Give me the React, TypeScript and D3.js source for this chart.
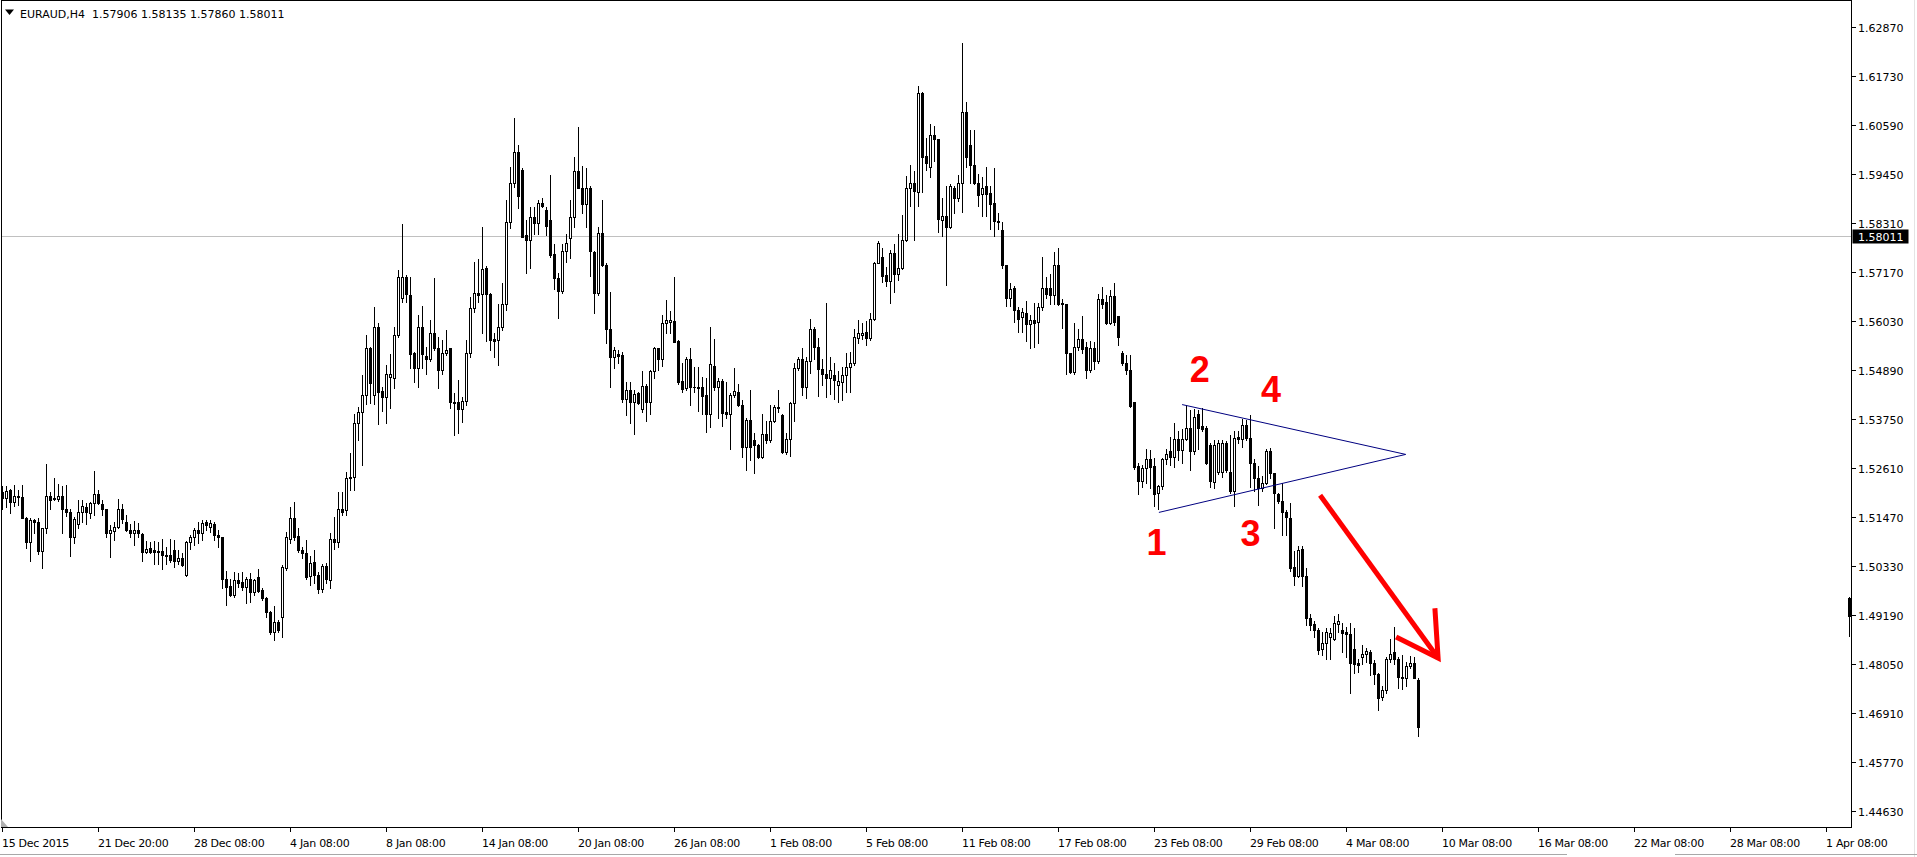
import React from "react";
import * as d3 from "d3";

const CHART_W = 1917;
const CHART_H = 857;

const symbolName = "EURAUD,H4";
const lastQuote = ["1.57906", "1.58135", "1.57860", "1.58011"];
const bidPrice = 1.58011;

const priceTickLabels = [
  "1.62870", "1.61730", "1.60590", "1.59450", "1.58310", "1.57170", "1.56030", "1.54890", "1.53750",
  "1.52610", "1.51470", "1.50330", "1.49190", "1.48050", "1.46910", "1.45770", "1.44630",
];

const timeLabels = [
  "15 Dec 2015", "21 Dec 20:00", "28 Dec 08:00", "4 Jan 08:00", "8 Jan 08:00", "14 Jan 08:00",
  "20 Jan 08:00", "26 Jan 08:00", "1 Feb 08:00", "5 Feb 08:00", "11 Feb 08:00", "17 Feb 08:00",
  "23 Feb 08:00", "29 Feb 08:00", "4 Mar 08:00", "10 Mar 08:00", "16 Mar 08:00", "22 Mar 08:00",
  "28 Mar 08:00", "1 Apr 08:00",
];
const BARS_PER_TIME_LABEL = 24;

// H4 bars, oldest first
const opens = [
  1.5204, 1.5191, 1.5209, 1.5182, 1.5195, 1.5193, 1.5145, 1.5087, 1.5139, 1.5134,
  1.5068, 1.5120, 1.5195, 1.5189, 1.5189, 1.5195, 1.5164, 1.5158, 1.5099, 1.5129,
  1.5157, 1.5170, 1.5156, 1.5178, 1.5201, 1.5176, 1.5164, 1.5108, 1.5113, 1.5124,
  1.5166, 1.5135, 1.5117, 1.5108, 1.5117, 1.5106, 1.5065, 1.5075, 1.5069, 1.5068,
  1.5067, 1.5057, 1.5057, 1.5069, 1.5044, 1.5050, 1.5011, 1.5089, 1.5099, 1.5116,
  1.5108, 1.5135, 1.5124, 1.5131, 1.5104, 1.5099, 1.5001, 1.4985, 1.4964, 1.4999,
  1.4996, 1.4984, 1.5003, 1.4972, 1.5006, 1.4976, 1.4957, 1.4926, 1.4879, 1.4902,
  1.4914, 1.5028, 1.5096, 1.5143, 1.5102, 1.5069, 1.5062, 1.5009, 1.5041, 1.5011,
  1.4978, 1.5032, 1.4999, 1.5096, 1.5089, 1.5166, 1.5162, 1.5237, 1.5240, 1.5366,
  1.5391, 1.5430, 1.5539, 1.5430, 1.5588, 1.5439, 1.5426, 1.5473, 1.5471, 1.5570,
  1.5655, 1.5704, 1.5663, 1.5527, 1.5492, 1.5588, 1.5521, 1.5513, 1.5574, 1.5539,
  1.5488, 1.5527, 1.5539, 1.5415, 1.5415, 1.5397, 1.5417, 1.5527, 1.5632, 1.5667,
  1.5665, 1.5725, 1.5665, 1.5560, 1.5558, 1.5589, 1.5642, 1.5833, 1.5923, 1.5996,
  1.5955, 1.5803, 1.5791, 1.5845, 1.5830, 1.5876, 1.5861, 1.5837, 1.5758, 1.5702,
  1.5673, 1.5766, 1.5795, 1.5845, 1.5951, 1.5911, 1.5875, 1.5913, 1.5764, 1.5668,
  1.5808, 1.5734, 1.5584, 1.5518, 1.5526, 1.5523, 1.5420, 1.5442, 1.5415, 1.5434,
  1.5397, 1.5451, 1.5415, 1.5486, 1.5539, 1.5515, 1.5598, 1.5601, 1.5603, 1.5557,
  1.5463, 1.5446, 1.5513, 1.5448, 1.5449, 1.5448, 1.5430, 1.5386, 1.5498, 1.5448,
  1.5463, 1.5391, 1.5387, 1.5430, 1.5437, 1.5407, 1.5310, 1.5372, 1.5325, 1.5314,
  1.5285, 1.5339, 1.5325, 1.5370, 1.5399, 1.5384, 1.5298, 1.5329, 1.5411, 1.5492,
  1.5515, 1.5448, 1.5510, 1.5583, 1.5541, 1.5490, 1.5479, 1.5469, 1.5477, 1.5453,
  1.5461, 1.5477, 1.5496, 1.5504, 1.5562, 1.5570, 1.5577, 1.5564, 1.5606, 1.5738,
  1.5751, 1.5710, 1.5696, 1.5761, 1.5712, 1.5727, 1.5791, 1.5913, 1.5923, 1.5903,
  1.6134, 1.5986, 1.5960, 1.6035, 1.6025, 1.5838, 1.5848, 1.5821, 1.5913, 1.5888,
  1.5924, 1.6088, 1.6011, 1.5966, 1.5924, 1.5898, 1.5916, 1.5900, 1.5877, 1.5835,
  1.5814, 1.5732, 1.5656, 1.5679, 1.5628, 1.5611, 1.5621, 1.5595, 1.5605, 1.5600,
  1.5635, 1.5679, 1.5679, 1.5663, 1.5734, 1.5645, 1.5642, 1.5529, 1.5484, 1.5542,
  1.5561, 1.5542, 1.5489, 1.5540, 1.5510, 1.5653, 1.5647, 1.5597, 1.5660, 1.5614,
  1.5529, 1.5505, 1.5489, 1.5413, 1.5266, 1.5231, 1.5260, 1.5281, 1.5266, 1.5203,
  1.5218, 1.5281, 1.5300, 1.5287, 1.5329, 1.5302, 1.5329, 1.5354, 1.5300, 1.5386,
  1.5358, 1.5354, 1.5315, 1.5228, 1.5252, 1.5252, 1.5319, 1.5252, 1.5207, 1.5333,
  1.5329, 1.5361, 1.5331, 1.5273, 1.5236, 1.5213, 1.5226, 1.5300, 1.5249, 1.5199,
  1.5184, 1.5157, 1.5144, 1.5031, 1.5010, 1.5073, 1.5010, 1.4912, 1.4897, 1.4883,
  1.4838, 1.4852, 1.4867, 1.4862, 1.4897, 1.4883, 1.4878, 1.4873, 1.4838, 1.4806,
  1.4820, 1.4827, 1.4831, 1.4806, 1.4781, 1.4728, 1.4743, 1.4817, 1.4831, 1.4817,
  1.4775, 1.4771, 1.4799, 1.4806, 1.4767,
];

const highs = [
  1.5218, 1.5218, 1.5211, 1.5220, 1.5209, 1.5220, 1.5147, 1.5143, 1.5142, 1.5143,
  1.5121, 1.5269, 1.5205, 1.5236, 1.5224, 1.5218, 1.5220, 1.5164, 1.5147, 1.5186,
  1.5186, 1.5179, 1.5182, 1.5253, 1.5209, 1.5186, 1.5166, 1.5127, 1.5135, 1.5189,
  1.5176, 1.5151, 1.5131, 1.5137, 1.5133, 1.5108, 1.5091, 1.5089, 1.5091, 1.5089,
  1.5094, 1.5077, 1.5094, 1.5093, 1.5069, 1.5062, 1.5091, 1.5104, 1.5120, 1.5135,
  1.5139, 1.5139, 1.5139, 1.5135, 1.5116, 1.5100, 1.5021, 1.5003, 1.5019, 1.5016,
  1.5019, 1.5007, 1.5016, 1.5003, 1.5026, 1.4980, 1.4961, 1.4928, 1.4939, 1.4906,
  1.5034, 1.5112, 1.5169, 1.5182, 1.5120, 1.5077, 1.5093, 1.5055, 1.5069, 1.5019,
  1.5038, 1.5040, 1.5108, 1.5147, 1.5205, 1.5205, 1.5251, 1.5296, 1.5387, 1.5403,
  1.5477, 1.5570, 1.5543, 1.5634, 1.5597, 1.5449, 1.5500, 1.5525, 1.5589, 1.5721,
  1.5828, 1.5709, 1.5706, 1.5531, 1.5616, 1.5637, 1.5543, 1.5605, 1.5702, 1.5566,
  1.5558, 1.5581, 1.5539, 1.5434, 1.5465, 1.5426, 1.5558, 1.5659, 1.5740, 1.5746,
  1.5822, 1.5731, 1.5667, 1.5574, 1.5642, 1.5692, 1.5885, 1.5962, 1.6076, 1.6012,
  1.5958, 1.5837, 1.5867, 1.5868, 1.5884, 1.5888, 1.5868, 1.5942, 1.5782, 1.5715,
  1.5782, 1.5805, 1.5883, 1.5985, 1.6055, 1.5963, 1.5958, 1.5917, 1.5766, 1.5822,
  1.5883, 1.5737, 1.5671, 1.5543, 1.5535, 1.5531, 1.5461, 1.5461, 1.5442, 1.5438,
  1.5487, 1.5457, 1.5488, 1.5543, 1.5539, 1.5616, 1.5651, 1.5626, 1.5704, 1.5558,
  1.5504, 1.5519, 1.5539, 1.5496, 1.5496, 1.5473, 1.5469, 1.5588, 1.5560, 1.5469,
  1.5467, 1.5461, 1.5434, 1.5492, 1.5457, 1.5418, 1.5376, 1.5442, 1.5341, 1.5316,
  1.5387, 1.5370, 1.5407, 1.5407, 1.5442, 1.5387, 1.5341, 1.5415, 1.5504, 1.5519,
  1.5539, 1.5518, 1.5606, 1.5589, 1.5562, 1.5513, 1.5645, 1.5519, 1.5504, 1.5487,
  1.5496, 1.5527, 1.5531, 1.5585, 1.5605, 1.5597, 1.5603, 1.5620, 1.5740, 1.5789,
  1.5772, 1.5729, 1.5768, 1.5782, 1.5806, 1.5849, 1.5940, 1.5965, 1.5952, 1.6149,
  1.6136, 1.6028, 1.6061, 1.6056, 1.6025, 1.5888, 1.5916, 1.5921, 1.5916, 1.5942,
  1.6250, 1.6113, 1.6046, 1.6046, 1.5945, 1.5937, 1.5962, 1.5916, 1.5958, 1.5853,
  1.5832, 1.5732, 1.5690, 1.5684, 1.5635, 1.5632, 1.5650, 1.5616, 1.5645, 1.5645,
  1.5751, 1.5705, 1.5711, 1.5763, 1.5772, 1.5653, 1.5642, 1.5529, 1.5597, 1.5584,
  1.5614, 1.5553, 1.5555, 1.5553, 1.5666, 1.5681, 1.5663, 1.5674, 1.5692, 1.5614,
  1.5532, 1.5523, 1.5523, 1.5413, 1.5273, 1.5268, 1.5305, 1.5302, 1.5284, 1.5220,
  1.5284, 1.5305, 1.5333, 1.5365, 1.5347, 1.5352, 1.5407, 1.5395, 1.5397, 1.5395,
  1.5400, 1.5358, 1.5319, 1.5326, 1.5326, 1.5326, 1.5323, 1.5337, 1.5347, 1.5347,
  1.5375, 1.5373, 1.5384, 1.5281, 1.5266, 1.5242, 1.5305, 1.5308, 1.5249, 1.5203,
  1.5226, 1.5163, 1.5178, 1.5068, 1.5078, 1.5078, 1.5028, 1.4920, 1.4904, 1.4889,
  1.4878, 1.4889, 1.4889, 1.4915, 1.4920, 1.4899, 1.4891, 1.4899, 1.4889, 1.4815,
  1.4849, 1.4841, 1.4836, 1.4813, 1.4783, 1.4754, 1.4820, 1.4862, 1.4891, 1.4820,
  1.4825, 1.4809, 1.4823, 1.4820, 1.4771,
];

const lows = [
  1.5164, 1.5170, 1.5156, 1.5172, 1.5174, 1.5143, 1.5075, 1.5044, 1.5108, 1.5060,
  1.5028, 1.5110, 1.5164, 1.5186, 1.5184, 1.5110, 1.5148, 1.5056, 1.5085, 1.5120,
  1.5135, 1.5131, 1.5143, 1.5151, 1.5176, 1.5151, 1.5100, 1.5054, 1.5093, 1.5120,
  1.5133, 1.5114, 1.5100, 1.5082, 1.5100, 1.5044, 1.5062, 1.5062, 1.5038, 1.5038,
  1.5026, 1.5038, 1.5042, 1.5030, 1.5038, 1.5032, 1.5010, 1.5073, 1.5081, 1.5085,
  1.5093, 1.5116, 1.5112, 1.5093, 1.5077, 1.4980, 1.4941, 1.4962, 1.4961, 1.4984,
  1.4976, 1.4947, 1.4949, 1.4964, 1.4972, 1.4953, 1.4914, 1.4874, 1.4860, 1.4879,
  1.4867, 1.5023, 1.5085, 1.5093, 1.5065, 1.5050, 1.5003, 1.4988, 1.4992, 1.4970,
  1.4972, 1.4992, 1.4980, 1.5073, 1.5077, 1.5151, 1.5151, 1.5209, 1.5209, 1.5325,
  1.5267, 1.5409, 1.5411, 1.5409, 1.5362, 1.5394, 1.5364, 1.5399, 1.5446, 1.5566,
  1.5647, 1.5647, 1.5492, 1.5461, 1.5448, 1.5492, 1.5480, 1.5510, 1.5535, 1.5446,
  1.5480, 1.5523, 1.5399, 1.5337, 1.5341, 1.5368, 1.5407, 1.5519, 1.5624, 1.5647,
  1.5575, 1.5557, 1.5535, 1.5518, 1.5500, 1.5581, 1.5628, 1.5820, 1.5915, 1.5865,
  1.5797, 1.5715, 1.5727, 1.5806, 1.5806, 1.5867, 1.5803, 1.5751, 1.5678, 1.5610,
  1.5668, 1.5740, 1.5748, 1.5822, 1.5911, 1.5853, 1.5822, 1.5707, 1.5620, 1.5663,
  1.5731, 1.5552, 1.5448, 1.5494, 1.5504, 1.5415, 1.5384, 1.5364, 1.5339, 1.5409,
  1.5391, 1.5370, 1.5387, 1.5469, 1.5488, 1.5498, 1.5574, 1.5574, 1.5554, 1.5457,
  1.5438, 1.5442, 1.5407, 1.5438, 1.5394, 1.5387, 1.5345, 1.5355, 1.5443, 1.5376,
  1.5358, 1.5376, 1.5304, 1.5426, 1.5405, 1.5286, 1.5255, 1.5279, 1.5248, 1.5283,
  1.5283, 1.5319, 1.5322, 1.5368, 1.5391, 1.5296, 1.5294, 1.5288, 1.5370, 1.5488,
  1.5430, 1.5424, 1.5482, 1.5515, 1.5428, 1.5453, 1.5426, 1.5432, 1.5420, 1.5415,
  1.5418, 1.5438, 1.5438, 1.5500, 1.5552, 1.5560, 1.5546, 1.5558, 1.5605, 1.5737,
  1.5694, 1.5684, 1.5645, 1.5671, 1.5698, 1.5723, 1.5789, 1.5870, 1.5792, 1.5870,
  1.5903, 1.5955, 1.5938, 1.5974, 1.5810, 1.5800, 1.5687, 1.5818, 1.5853, 1.5881,
  1.5856, 1.5962, 1.5924, 1.5921, 1.5871, 1.5846, 1.5846, 1.5816, 1.5800, 1.5816,
  1.5726, 1.5637, 1.5637, 1.5600, 1.5576, 1.5576, 1.5555, 1.5540, 1.5542, 1.5552,
  1.5628, 1.5656, 1.5642, 1.5642, 1.5639, 1.5586, 1.5479, 1.5481, 1.5479, 1.5534,
  1.5529, 1.5470, 1.5484, 1.5491, 1.5505, 1.5632, 1.5595, 1.5595, 1.5593, 1.5547,
  1.5500, 1.5479, 1.5403, 1.5257, 1.5200, 1.5215, 1.5226, 1.5213, 1.5171, 1.5165,
  1.5211, 1.5270, 1.5268, 1.5263, 1.5279, 1.5273, 1.5326, 1.5255, 1.5294, 1.5305,
  1.5347, 1.5270, 1.5215, 1.5213, 1.5247, 1.5239, 1.5252, 1.5203, 1.5173, 1.5319,
  1.5310, 1.5326, 1.5215, 1.5207, 1.5175, 1.5207, 1.5224, 1.5236, 1.5120, 1.5178,
  1.5104, 1.5104, 1.5020, 1.4989, 1.5007, 1.4986, 1.4894, 1.4883, 1.4867, 1.4827,
  1.4825, 1.4817, 1.4815, 1.4859, 1.4878, 1.4831, 1.4820, 1.4736, 1.4783, 1.4785,
  1.4804, 1.4810, 1.4778, 1.4757, 1.4697, 1.4720, 1.4736, 1.4810, 1.4804, 1.4749,
  1.4746, 1.4752, 1.4794, 1.4771, 1.4636,
];

const closes = [
  1.5191, 1.5207, 1.5182, 1.5195, 1.5192, 1.5145, 1.5089, 1.5139, 1.5134, 1.5068,
  1.5120, 1.5195, 1.5186, 1.5190, 1.5195, 1.5164, 1.5158, 1.5099, 1.5141, 1.5157,
  1.5172, 1.5157, 1.5178, 1.5201, 1.5178, 1.5164, 1.5108, 1.5116, 1.5124, 1.5166,
  1.5141, 1.5117, 1.5108, 1.5117, 1.5108, 1.5065, 1.5073, 1.5065, 1.5066, 1.5066,
  1.5058, 1.5056, 1.5046, 1.5044, 1.5052, 1.5034, 1.5089, 1.5099, 1.5116, 1.5108,
  1.5133, 1.5127, 1.5133, 1.5104, 1.5099, 1.5001, 1.4984, 1.4964, 1.4999, 1.4992,
  1.4984, 1.5001, 1.4972, 1.4999, 1.4975, 1.4957, 1.4926, 1.4879, 1.4902, 1.4883,
  1.5030, 1.5099, 1.5143, 1.5100, 1.5069, 1.5062, 1.5007, 1.5040, 1.5011, 1.4978,
  1.5032, 1.5003, 1.5096, 1.5089, 1.5166, 1.5158, 1.5238, 1.5240, 1.5366, 1.5391,
  1.5430, 1.5539, 1.5459, 1.5588, 1.5438, 1.5426, 1.5479, 1.5480, 1.5570, 1.5704,
  1.5704, 1.5665, 1.5525, 1.5492, 1.5588, 1.5525, 1.5515, 1.5574, 1.5539, 1.5488,
  1.5527, 1.5536, 1.5413, 1.5412, 1.5397, 1.5417, 1.5527, 1.5632, 1.5667, 1.5663,
  1.5723, 1.5665, 1.5558, 1.5557, 1.5589, 1.5642, 1.5833, 1.5923, 1.5996, 1.5894,
  1.5799, 1.5792, 1.5845, 1.5830, 1.5876, 1.5870, 1.5823, 1.5756, 1.5702, 1.5673,
  1.5766, 1.5785, 1.5845, 1.5951, 1.5913, 1.5875, 1.5913, 1.5766, 1.5668, 1.5808,
  1.5733, 1.5584, 1.5518, 1.5535, 1.5521, 1.5420, 1.5442, 1.5415, 1.5432, 1.5411,
  1.5451, 1.5415, 1.5486, 1.5539, 1.5515, 1.5598, 1.5605, 1.5605, 1.5554, 1.5461,
  1.5444, 1.5513, 1.5448, 1.5449, 1.5446, 1.5428, 1.5386, 1.5502, 1.5448, 1.5463,
  1.5389, 1.5387, 1.5430, 1.5440, 1.5407, 1.5310, 1.5372, 1.5310, 1.5314, 1.5286,
  1.5339, 1.5325, 1.5370, 1.5403, 1.5403, 1.5298, 1.5329, 1.5411, 1.5492, 1.5515,
  1.5448, 1.5510, 1.5583, 1.5541, 1.5490, 1.5479, 1.5469, 1.5488, 1.5465, 1.5463,
  1.5477, 1.5496, 1.5504, 1.5566, 1.5574, 1.5575, 1.5564, 1.5606, 1.5738, 1.5785,
  1.5707, 1.5696, 1.5761, 1.5712, 1.5727, 1.5792, 1.5913, 1.5923, 1.5906, 1.6134,
  1.5985, 1.5971, 1.6035, 1.6025, 1.5839, 1.5848, 1.5821, 1.5916, 1.5888, 1.5924,
  1.6088, 1.5985, 1.5966, 1.5924, 1.5895, 1.5913, 1.5898, 1.5874, 1.5835, 1.5832,
  1.5732, 1.5656, 1.5677, 1.5628, 1.5607, 1.5624, 1.5595, 1.5605, 1.5597, 1.5635,
  1.5679, 1.5666, 1.5663, 1.5734, 1.5642, 1.5642, 1.5529, 1.5484, 1.5542, 1.5561,
  1.5537, 1.5489, 1.5540, 1.5510, 1.5653, 1.5642, 1.5597, 1.5660, 1.5600, 1.5565,
  1.5505, 1.5489, 1.5405, 1.5263, 1.5231, 1.5260, 1.5281, 1.5263, 1.5200, 1.5218,
  1.5281, 1.5294, 1.5287, 1.5329, 1.5302, 1.5329, 1.5354, 1.5300, 1.5379, 1.5354,
  1.5352, 1.5273, 1.5231, 1.5315, 1.5319, 1.5319, 1.5255, 1.5207, 1.5331, 1.5329,
  1.5361, 1.5331, 1.5273, 1.5236, 1.5213, 1.5226, 1.5300, 1.5249, 1.5203, 1.5184,
  1.5157, 1.5147, 1.5028, 1.5010, 1.5070, 1.5010, 1.4912, 1.4894, 1.4883, 1.4836,
  1.4852, 1.4878, 1.4876, 1.4899, 1.4904, 1.4876, 1.4873, 1.4806, 1.4804, 1.4802,
  1.4827, 1.4834, 1.4806, 1.4781, 1.4725, 1.4743, 1.4817, 1.4827, 1.4815, 1.4773,
  1.4771, 1.4799, 1.4806, 1.4771, 1.4657,
];

// bar cut by the right edge of the plot
const edgeBar = { bar: 461.75, open: 1.4957, high: 1.496, low: 1.4869, close: 1.4917 };

// symmetrical triangle (bar index, price)
const triangleLower = [[289.1, 1.5157], [350.8, 1.5292]];
const triangleUpper = [[294.9, 1.5408], [350.8, 1.5292]];

const waveLabels = [
  { text: "1", bar: 286.0, price: 1.5058 },
  { text: "2", bar: 296.8, price: 1.5461 },
  { text: "3", bar: 309.5, price: 1.5079 },
  { text: "4", bar: 314.6, price: 1.5415 },
];

const arrowShaft = [[329.4, 1.5197], [358.9, 1.4818]];
const arrowHead = [[348.4, 1.4867], [358.9, 1.4818], [358.1, 1.4934]];

const PLOT_LEFT = 1.5;
const PLOT_TOP = 0.5;
const PLOT_RIGHT = 1851.5;
const PLOT_BOTTOM = 827.5;

const x = d3.scaleLinear().domain([0, 456]).range([2.5, 1826.5]);
const y = d3.scaleLinear().domain([1.4463, 1.6287]).range([810.6, 26.9]);

const AXIS_FONT = "'DejaVu Sans', Verdana, sans-serif";

type Bar = { i: number; o: number; h: number; l: number; c: number };

function Candle({ cx, o, h, l, c }: { cx: number; o: number; h: number; l: number; c: number }) {
  const yo = y(o);
  const yc = y(c);
  const top = Math.round(Math.min(yo, yc)) + 0.5;
  const bot = Math.round(Math.max(yo, yc)) + 0.5;
  const yh = Math.round(y(h));
  const yl = Math.round(y(l)) + 1;
  const bull = c >= o;
  return (
    <g>
      <line x1={cx} x2={cx} y1={yh} y2={yl} stroke="#000" strokeWidth={1} />
      {bot - top < 1 ? (
        <line x1={cx - 1.5} x2={cx + 1.5} y1={top} y2={top} stroke="#000" strokeWidth={1} />
      ) : (
        <rect x={cx - 1} y={top} width={2} height={bot - top} fill={bull ? "#fff" : "#000"} stroke="#000" strokeWidth={1} />
      )}
    </g>
  );
}

export default function App() {
  const bars: Bar[] = opens.map((o, i) => ({ i, o, h: highs[i], l: lows[i], c: closes[i] }));
  const bidY = Math.round(y(bidPrice)) + 0.5;
  const line = d3.line<number[]>().x((d) => x(d[0])).y((d) => y(d[1]));

  return (
    <div style={{ width: CHART_W, height: CHART_H, overflow: "hidden" }}>
      <style>{`html,body{margin:0;padding:0;overflow:hidden;background:#fff;}`}</style>
      <svg width={CHART_W} height={CHART_H} style={{ display: "block", background: "#fff" }}>
        <defs>
          <clipPath id="plotClip">
            <rect x={PLOT_LEFT} y={PLOT_TOP} width={PLOT_RIGHT - PLOT_LEFT} height={PLOT_BOTTOM - PLOT_TOP} />
          </clipPath>
        </defs>

        {/* bid line */}
        <line x1={PLOT_LEFT} x2={PLOT_RIGHT} y1={bidY} y2={bidY} stroke="#c0c0c0" strokeWidth={1} shapeRendering="crispEdges" />

        {/* candles */}
        <g clipPath="url(#plotClip)" shapeRendering="crispEdges">
          {bars.map((b) => (
            <Candle key={b.i} cx={x(b.i)} o={b.o} h={b.h} l={b.l} c={b.c} />
          ))}
          <Candle cx={x(edgeBar.bar)} o={edgeBar.open} h={edgeBar.high} l={edgeBar.low} c={edgeBar.close} />
        </g>

        {/* triangle */}
        <g fill="none" stroke="#000080" strokeWidth={1}>
          <path d={line(triangleLower) || ""} />
          <path d={line(triangleUpper) || ""} />
        </g>

        {/* wave numbers */}
        <g fill="#ff0000" fontFamily="'Liberation Sans', Arial, sans-serif" fontWeight="bold" fontSize={36}>
          {waveLabels.map((w) => (
            <text key={w.text} x={x(w.bar)} y={y(w.price)}>
              {w.text}
            </text>
          ))}
        </g>

        {/* arrow */}
        <g fill="none" stroke="#ff0000" strokeWidth={5} strokeLinecap="butt" strokeLinejoin="miter">
          <path d={line(arrowShaft) || ""} />
          <path d={line(arrowHead) || ""} />
        </g>

        {/* frame */}
        <rect
          x={PLOT_LEFT}
          y={PLOT_TOP}
          width={PLOT_RIGHT - PLOT_LEFT}
          height={PLOT_BOTTOM - PLOT_TOP}
          fill="none"
          stroke="#000"
          strokeWidth={1}
          shapeRendering="crispEdges"
        />
        <polygon points={`1,819 1,827 8,827`} fill="#b0b0b0" />

        {/* price axis */}
        <g fontFamily={AXIS_FONT} fontSize={11} fill="#000">
          {priceTickLabels.map((t) => {
            const ty = Math.round(y(+t)) + 0.5;
            return (
              <g key={t}>
                <line x1={1852} x2={1856} y1={ty} y2={ty} stroke="#000" shapeRendering="crispEdges" />
                <text x={1858} y={ty + 4}>
                  {t}
                </text>
              </g>
            );
          })}
        </g>

        {/* bid label */}
        <rect x={1852.5} y={bidY - 7} width={56} height={14} fill="#000" />
        <text x={1858} y={bidY + 4} fontFamily={AXIS_FONT} fontSize={11} fill="#fff">
          {bidPrice.toFixed(5)}
        </text>

        {/* time axis */}
        <g fontFamily={AXIS_FONT} fontSize={11} fill="#000" letterSpacing={-0.3}>
          {timeLabels.map((t, k) => {
            const tx = x(k * BARS_PER_TIME_LABEL);
            return (
              <g key={t}>
                <line x1={tx} x2={tx} y1={828} y2={832} stroke="#000" shapeRendering="crispEdges" />
                <text x={tx - 0.5} y={847}>
                  {t}
                </text>
              </g>
            );
          })}
        </g>

        {/* window edges */}
        <line x1={1914.5} x2={1914.5} y1={0} y2={CHART_H} stroke="#e4e4e4" />
        <line x1={0} x2={1567} y1={854.5} y2={854.5} stroke="#a8a8a8" />
        <line x1={1675} x2={CHART_W} y1={854.5} y2={854.5} stroke="#a8a8a8" />

        {/* title */}
        <polygon points="5,9.5 14,9.5 9.5,15" fill="#000" />
        <text x={20} y={18} fontFamily={AXIS_FONT} fontSize={11} fill="#000" style={{ whiteSpace: "pre" }}>
          {`${symbolName}  ${lastQuote.join(" ")}`}
        </text>
      </svg>
    </div>
  );
}
